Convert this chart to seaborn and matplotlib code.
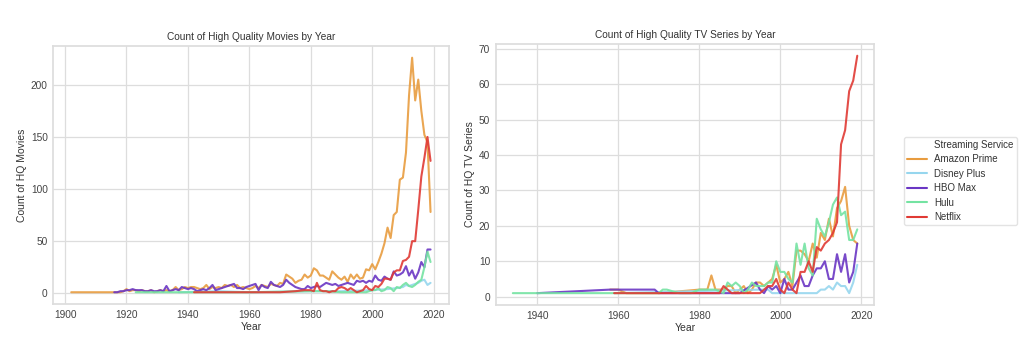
import pandas as pd
import matplotlib
matplotlib.use('Agg')
import matplotlib.pyplot as plt
import seaborn as sns
from matplotlib.lines import Line2D

sns.set_theme(style='whitegrid')
plt.rcParams['font.family'] = ['Liberation Sans', 'DejaVu Sans']

services = ['Amazon Prime', 'Disney Plus', 'HBO Max', 'Hulu', 'Netflix']
colors = ['#E89C3F', '#96D6EE', '#6A36C4', '#74E3A2', '#E03A34']

# ---- movies: high quality count per year ----
amazon_movies_years = [1902, 1918] + list(range(1919, 2020))
amazon_movies = [1, 1,
    2, 4, 2, 3, 3, 2, 3, 2, 2, 3, 1,          # 1919-1929
    2, 3, 2, 3, 2, 3, 6, 3, 4, 6,             # 1930-1939
    5, 6, 6, 5, 4, 5, 8, 4, 6, 5,             # 1940-1949
    6, 5, 8, 7, 8, 6, 8, 5, 6, 5,             # 1950-1959
    4, 5, 7, 5, 8, 7, 6, 9, 8, 7,             # 1960-1969
    10, 9, 18, 16, 14, 10, 12, 13, 18, 15,    # 1970-1979
    17, 24, 22, 17, 17, 15, 13, 21, 18, 15,   # 1980-1989
    13, 16, 11, 18, 14, 18, 14, 15, 23, 22,   # 1990-1999
    28, 23, 30, 38, 48, 63, 53, 75, 78, 109,  # 2000-2009
    111, 135, 190, 226, 185, 205, 175, 152, 145, 78]  # 2010-2019

disney_movies_years = [1937, 1950, 1960, 1980, 1990, 2000, 2005, 2008, 2010,
                       2011, 2012, 2013, 2014, 2015, 2016, 2017, 2018, 2019]
disney_movies = [1, 2, 1, 2, 2, 3, 4, 5, 6, 8, 7, 8, 9, 10, 12, 13, 8, 10]

hbo_movies_years = list(range(1916, 2020))
hbo_movies = [1, 1, 2, 2,                     # 1916-1919
    3, 3, 4, 3, 3, 3, 2, 2, 3, 2,             # 1920-1929
    2, 3, 2, 7, 2, 3, 4, 3, 6, 5,             # 1930-1939
    4, 5, 4, 2, 3, 4, 3, 5, 8, 3,             # 1940-1949
    4, 5, 6, 7, 8, 9, 5, 5, 4, 6,             # 1950-1959
    7, 8, 9, 3, 8, 6, 5, 11, 8, 7,            # 1960-1969
    6, 8, 13, 10, 8, 6, 5, 4, 4, 7,           # 1970-1979
    5, 6, 7, 6, 8, 10, 9, 8, 9, 7,            # 1980-1989
    8, 9, 10, 9, 8, 12, 11, 12, 10, 12,       # 1990-1999
    11, 17, 13, 12, 16, 14, 13, 21, 17, 18,   # 2000-2009
    20, 26, 17, 22, 14, 20, 30, 25, 42, 42]   # 2010-2019

hulu_movies_years = [1923, 1960, 1980, 1985, 1990, 1995, 1998] + list(range(1999, 2020))
hulu_movies = [1, 1, 2, 2, 1, 1, 1,
    2, 3, 3, 5, 2, 3, 6, 5, 2, 6, 5,
    8, 10, 7, 6, 8, 11, 13, 25, 40, 30]

netflix_movies_years = [1942, 1960, 1970, 1975, 1978] + list(range(1980, 2020))
netflix_movies = [1, 1, 1, 2, 3,
    3, 2, 10, 3, 2, 2, 1, 2, 2, 5,            # 1980-1989
    6, 5, 3, 5, 3, 1, 2, 3, 7, 4,             # 1990-1999
    3, 7, 6, 9, 14, 14, 13, 20, 22, 22,       # 2000-2009
    31, 32, 35, 50, 50, 80, 112, 130, 150, 127]  # 2010-2019

# ---- TV series: high quality count per year ----
amazon_tv_years = [1958, 1960, 1962, 1970] + list(range(1980, 2020))
amazon_tv = [2, 2, 1, 1,
    2, 2, 2, 6, 2, 2, 2, 3, 3, 1,             # 1980-1989
    2, 3, 1, 2, 4, 4, 3, 4, 5, 9,             # 1990-1999
    4, 5, 7, 3, 13, 13, 12, 10, 15, 11,       # 2000-2009
    18, 16, 22, 17, 25, 27, 31, 20, 16, 15]   # 2010-2019

disney_tv_years = [1959, 1995, 1996, 1997, 1998, 2000, 2008, 2009, 2010,
                   2011, 2012, 2013, 2014, 2015, 2016, 2017, 2018, 2019]
disney_tv = [1, 2, 2, 2, 1, 1, 1, 1, 2, 2, 3, 2, 4, 3, 3, 1, 4, 9]

hbo_tv_years = [1940, 1958, 1967, 1969, 1970, 1990] + list(range(1994, 2020))
hbo_tv = [1, 2, 2, 2, 1, 1,
    4, 2, 1, 3, 2, 3,                         # 1994-1999
    1, 5, 2, 2, 4, 6, 3, 3, 6, 8,             # 2000-2009
    8, 10, 5, 5, 12, 7, 12, 4, 7, 15]         # 2010-2019

hulu_tv_years = [1934, 1958, 1970, 1971, 1972, 1975, 1978, 1980, 1984, 1986] + list(range(1987, 2020))
hulu_tv = [1, 1, 1, 2, 2, 1, 1, 2, 2, 1,
    4, 3, 4,                                  # 1987-1989
    3, 1, 2, 4, 3, 3, 3, 4, 4, 10,            # 1990-1999
    7, 7, 5, 4, 15, 9, 15, 8, 6, 22,          # 2000-2009
    19, 17, 21, 26, 28, 23, 24, 16, 16, 19]   # 2010-2019

netflix_tv_years = [1959, 1985, 1986, 1987, 1988, 1995] + list(range(1996, 2020))
netflix_tv = [1, 1, 3, 2, 1, 1,
    2, 3, 3, 5,                               # 1996-1999
    2, 1, 4, 2, 1, 7, 7, 10, 7, 14,           # 2000-2009
    13, 15, 16, 18, 21, 43, 47, 58, 61, 68]   # 2010-2019


def to_frame(pairs):
    rows = []
    for name, (yrs, vals) in zip(services, pairs):
        for y, v in zip(yrs, vals):
            rows.append({'Year': y, 'Count': v, 'Streaming Service': name})
    return pd.DataFrame(rows)


movies_df = to_frame([(amazon_movies_years, amazon_movies),
                      (disney_movies_years, disney_movies),
                      (hbo_movies_years, hbo_movies),
                      (hulu_movies_years, hulu_movies),
                      (netflix_movies_years, netflix_movies)])
tv_df = to_frame([(amazon_tv_years, amazon_tv),
                  (disney_tv_years, disney_tv),
                  (hbo_tv_years, hbo_tv),
                  (hulu_tv_years, hulu_tv),
                  (netflix_tv_years, netflix_tv)])

palette = dict(zip(services, colors))

fig = plt.figure(figsize=(10.24, 3.51), dpi=100)
ax1 = fig.add_axes([0.052, 0.134, 0.386, 0.735])
ax2 = fig.add_axes([0.484, 0.131, 0.370, 0.744])

for ax, df, title, ylab in [(ax1, movies_df, 'Count of High Quality Movies by Year', 'Count of HQ Movies'),
                            (ax2, tv_df, 'Count of High Quality TV Series by Year', 'Count of HQ TV Series')]:
    sns.lineplot(data=df, x='Year', y='Count', hue='Streaming Service',
                 hue_order=services, palette=palette, ax=ax, linewidth=1.5,
                 alpha=0.9, legend=False)
    ax.set_title(title, fontsize=7.3, color='#333333', pad=4)
    ax.set_xlabel('Year', fontsize=7.5, color='#333333', labelpad=1.5)
    ax.set_ylabel(ylab, fontsize=7.5, color='#333333', labelpad=3)
    ax.tick_params(labelsize=7.3, colors='#444444', length=0, pad=4)
    for s in ax.spines.values():
        s.set_color('#dddddd')
    ax.grid(color='#dddddd', linewidth=0.9)

ax1.set_xticks([1900, 1920, 1940, 1960, 1980, 2000, 2020])
ax1.set_yticks([0, 50, 100, 150, 200])
ax2.set_xticks([1940, 1960, 1980, 2000, 2020])
ax2.set_yticks(range(0, 71, 10))

handles = [Line2D([], [], color='none', label='Streaming Service')]
handles += [Line2D([], [], color=c, lw=1.5, label=s) for s, c in zip(services, colors)]
leg = ax2.legend(handles=handles, loc='center left', bbox_to_anchor=(1.077, 0.475),
                 borderaxespad=0, fontsize=7, frameon=True, borderpad=0.35,
                 labelspacing=0.45, handlelength=2.0, handletextpad=0.8)
leg.get_frame().set_edgecolor('#dddddd')
for t in leg.get_texts():
    t.set_color('#333333')

fig.savefig('out.png', dpi=100, facecolor='white')
